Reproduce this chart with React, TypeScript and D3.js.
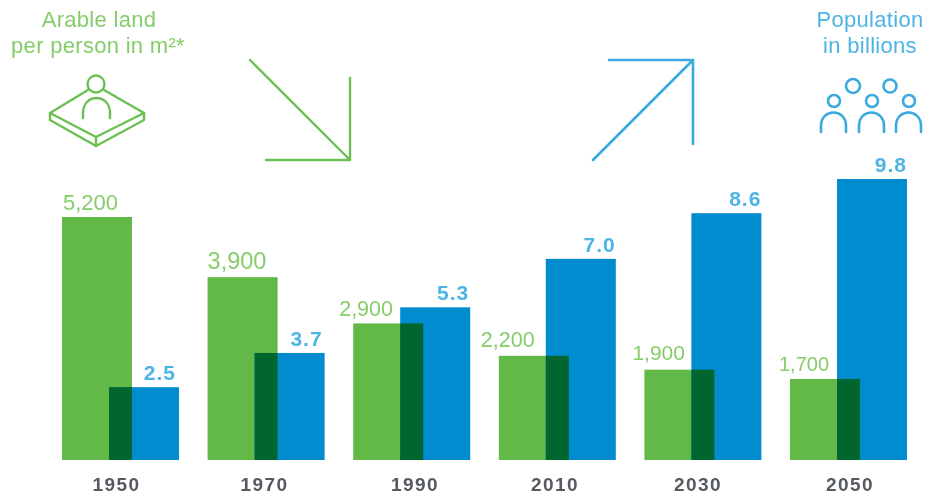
import React from "react";
import * as d3 from "d3";

const years = ["1950", "1970", "1990", "2010", "2030", "2050"];
const landLabels = ["5,200", "3,900", "2,900", "2,200", "1,900", "1,700"];
const landValues = [5200, 3900, 2900, 2200, 1900, 1700];
const popLabels = ["2.5", "3.7", "5.3", "7.0", "8.6", "9.8"];
const popValues = [2.5, 3.7, 5.3, 7.0, 8.6, 9.8];

const W = 927, H = 497, BASE = 460;
const GREEN = "#62b946", BLUE = "#068ccf", DARK = "#00662f";
const LGREEN = "#86cd6a", LBLUE = "#4db4e6";
const BAR = 70, OFFSET = 47;

const landLabelDx = [1, 0, -14, -18, -12, -11];
const landLabelDy = [-7, -8, -7, -9, -10, -8];
const landLabelSize = [22, 23.5, 21.5, 21.5, 21, 20];
const popLabelDx = [-3, -2, -1, 0, 0, 0];
const yearCentre = [116.5, 264.5, 415, 555, 698, 850];

export default function App() {
  const x = d3.scaleLinear().domain([0, years.length - 1]).range([62, 790]);
  const yLand = d3.scaleLinear().domain([0, 5200]).range([457.6, 217]);
  const yPop = d3.scaleLinear().domain([0, 9.8]).range([458.5, 179]);

  const greenStroke = { fill: "none", stroke: "#6cc052", strokeWidth: 2.4, strokeLinecap: "round" as const, strokeLinejoin: "round" as const };
  const blueStroke = { fill: "none", stroke: "#3aa9dd", strokeWidth: 2.6, strokeLinecap: "round" as const, strokeLinejoin: "round" as const };
  const font = "'Liberation Sans', Arial, sans-serif";

  return (
    <svg width={W} height={H} viewBox={`0 0 ${W} ${H}`} style={{ position: "absolute", left: 0, top: 0, background: "#fff" }} fontFamily={font}>
      <defs>
        <filter id="soft" x="0" y="0" width="100%" height="100%">
          <feGaussianBlur stdDeviation="0.7" />
        </filter>
      </defs>
      <rect width={W} height={H} fill="#fff" />
      <g filter="url(#soft)">
        {years.map((yr, i) => {
          const gx = x(i);
          const bx = gx + OFFSET;
          const gy = yLand(landValues[i]);
          const by = yPop(popValues[i]);
          const oy = Math.max(gy, by);
          return (
            <g key={yr}>
              <rect x={gx} y={gy} width={BAR} height={BASE - gy} fill={GREEN} />
              <rect x={bx} y={by} width={BAR} height={BASE - by} fill={BLUE} />
              <rect x={bx} y={oy} width={BAR - OFFSET} height={BASE - oy} fill={DARK} />
              <text x={gx + landLabelDx[i]} y={gy + landLabelDy[i]} fontSize={landLabelSize[i]} fill={LGREEN}>{landLabels[i]}</text>
              <text x={bx + BAR + popLabelDx[i]} y={by - 7} fontSize={21} fontWeight={700} letterSpacing={1} textAnchor="end" fill={LBLUE}>{popLabels[i]}</text>
              <text x={yearCentre[i]} y={491} fontSize={19} fontWeight={700} letterSpacing={1.4} textAnchor="middle" fill="#555a60">{yr}</text>
            </g>
          );
        })}

        <g fontSize={22} letterSpacing={0.3} fill={LGREEN} textAnchor="middle">
          <text x={99} y={27}>Arable land</text>
          <text x={98} y={53}>per person in m²*</text>
        </g>
        <g fontSize={22} letterSpacing={0.3} fill={LBLUE} textAnchor="middle">
          <text x={870} y={27}>Population</text>
          <text x={870} y={53}>in billions</text>
        </g>

        <g {...greenStroke}>
          <circle cx={96} cy={84} r={8.5} />
          <path d="M88 90 L50 113 L96 137 L144 113 L104 90" />
          <path d="M50 113 V120 L96 146 L144 120 V113" />
          <path d="M96 137 V146" />
          <path d="M83 118 V113 C83 93 110 93 110 113 V118" />
          <path d="M250 60 L350 160 M350 78 V160 M266 160 H350" />
        </g>

        <g {...blueStroke}>
          <path d="M593 160 L693 60 M609 60 H693 V144" />
          <circle cx={853} cy={86} r={7} />
          <circle cx={890} cy={86} r={6.5} />
          <circle cx={834} cy={101} r={6} />
          <circle cx={872} cy={101} r={6} />
          <circle cx={909} cy={101} r={6} />
          <path d="M821 132 V126 C821 108 846 108 846 126 V132" />
          <path d="M859 132 V126 C859 108 884 108 884 126 V132" />
          <path d="M896 132 V126 C896 108 921 108 921 126 V132" />
        </g>
      </g>
    </svg>
  );
}
